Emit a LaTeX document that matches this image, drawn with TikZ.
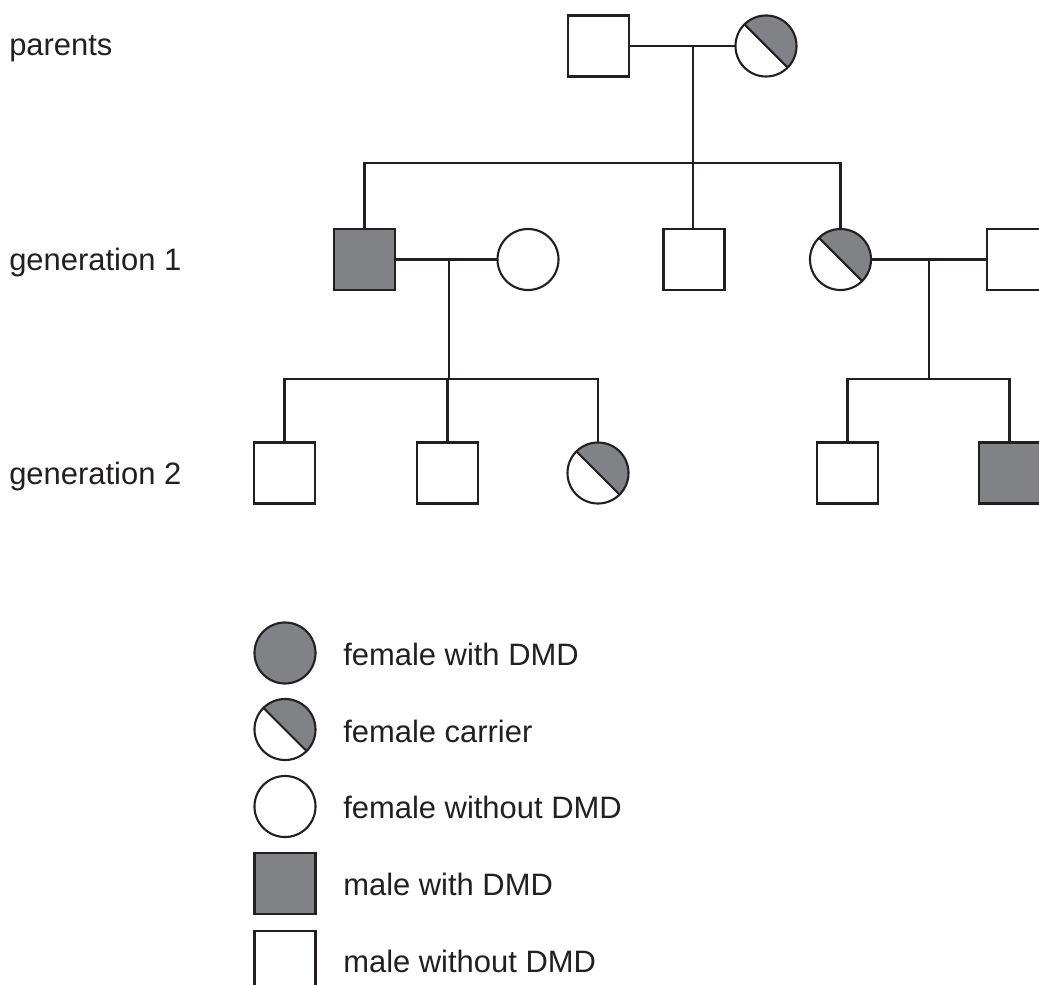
\documentclass[tikz,border=0pt]{standalone}
\usepackage{fontspec}
\setmainfont{Liberation Sans}
\usetikzlibrary{positioning}
\definecolor{dmdgrey}{RGB}{128,130,134}
\definecolor{ink}{RGB}{35,31,32}
\tikzset{
  person/.style={draw=ink,line width=1.5pt,inner sep=0pt,outer sep=0pt,minimum size=1.525cm},
  male/.style={person,rectangle,fill=white},
  female/.style={person,circle,fill=white},
  ill male/.style={male,fill=dmdgrey},
  ill female/.style={female,fill=dmdgrey},
  carrier/.style={female,path picture={
    \fill[dmdgrey] (path picture bounding box.north west) -- (path picture bounding box.north east)
      -- (path picture bounding box.south east) -- cycle;
    \draw[ink,line width=1.5pt] (path picture bounding box.north west) -- (path picture bounding box.south east);}},
  link/.style={draw=ink,line width=1.5pt},
  rowtext/.style={anchor=base west,inner sep=0pt,text=ink,font=\fontsize{22}{26}\selectfont}
}
\begin{document}
\begin{tikzpicture}[x=0.025cm,y=-0.025cm]
\useasboundingbox (0,0) rectangle (1039,985);
\clip (0,0) rectangle (1039,985);
% row labels
\node[rowtext] (tparents) at (9,56) {parents};
\node[rowtext] (tgen1) at (9,270) {generation 1};
\node[rowtext] (tgen2) at (9,484) {generation 2};
% parents
\node[male] (pa) at (598.5,46) {};
\node[carrier] (pb) at (766,46) {};
\coordinate (m0) at (693,46);
\coordinate (s0) at (693,163);
% generation 1
\node[ill male] (ga) at (364.5,259.5) {};
\node[female] (gb) at (528,259.5) {};
\node[male] (gc) at (694,259.5) {};
\node[carrier] (gd) at (840.5,259.5) {};
\node[male] (ge) at (1017.5,259.5) {};
\coordinate (m1) at (449,259.5);
\coordinate (s1) at (449,379);
\coordinate (m2) at (929,259.5);
\coordinate (s2) at (929,379);
% generation 2
\node[male] (ka) at (284.5,473) {};
\node[male] (kb) at (447.5,473) {};
\node[carrier] (kc) at (598,473) {};
\node[male] (kd) at (847.5,473) {};
\node[ill male] (ke) at (1009.5,473) {};
% lines
\draw[link] (pa.east) -- (pb.west);
\draw[link] (m0) -- (s0);
\draw[link] (ga.north) |- (s0) -| (gd.north);
\draw[link] (s0) -- (s0 |- gc.north);
\draw[link] (ga.east) -- (gb.west);
\draw[link] (m1) -- (s1);
\draw[link] (ka.north) |- (s1) -| (kc.north);
\draw[link] (s1) -- (s1 -| kb.north) -- (kb.north);
\draw[link] (gd.east) -- (ge.west);
\draw[link] (m2) -- (s2);
\draw[link] (kd.north) |- (s2) -| (ke.north);
% legend
\node[ill female] (la) at (285,653) {};
\node[carrier] (lb) at (285,729.5) {};
\node[female] (lc) at (285,806.5) {};
\node[ill male] (ld) at (285,883.5) {};
\node[male] (le) at (285,961.5) {};
\node[rowtext] (ta) at (343,665) {female with DMD};
\node[rowtext] (tb) at (343,742) {female carrier};
\node[rowtext] (tc) at (343,818) {female without DMD};
\node[rowtext] (td) at (343,895) {male with DMD};
\node[rowtext] (te) at (343,972) {male without DMD};
\end{tikzpicture}
\end{document}
